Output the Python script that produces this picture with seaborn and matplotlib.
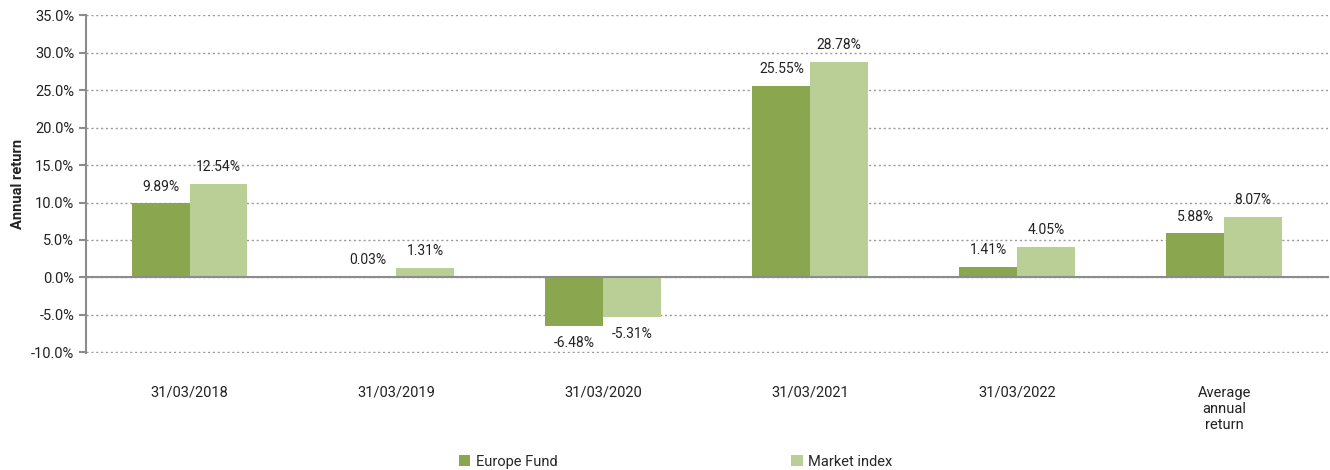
import numpy as np
import matplotlib.pyplot as plt
import seaborn as sns
import pandas as pd
from matplotlib.patches import Patch
from matplotlib.ticker import FixedLocator, PercentFormatter

sns.set_theme(style="white")
plt.rcParams['font.family'] = ['Roboto', 'DejaVu Sans']
plt.rcParams['axes.unicode_minus'] = False

categories = ["31/03/2018", "31/03/2019", "31/03/2020", "31/03/2021",
              "31/03/2022", "Average\nannual\nreturn"]
fund = [9.89, 0.03, -6.48, 25.55, 1.41, 5.88]
market = [12.54, 1.31, -5.31, 28.78, 4.05, 8.07]
series = ["Europe Fund", "Market index"]
colors = ["#8aa64e", "#b9cf95"]

df = pd.DataFrame({
    "date": categories * 2,
    "value": fund + market,
    "series": [series[0]] * len(fund) + [series[1]] * len(market),
})

fig = plt.figure(figsize=(13.3, 4.7), dpi=100)
ax = fig.add_axes([0.0647, 0.249, 0.9335, 0.719])

sns.barplot(data=df, x="date", y="value", hue="series", palette=colors,
            width=0.56, gap=0, saturation=1, ax=ax, legend=False,
            linewidth=0)

for cont in ax.containers:
    ax.bar_label(cont, fmt="%.2f%%", padding=7, fontsize=10, color="#222222")

ax.set_xlim(-0.5, 5.5)
ax.set_ylim(-10.1, 35.05)
ax.yaxis.set_major_locator(FixedLocator(np.arange(-10, 36, 5)))
ax.yaxis.set_major_formatter(PercentFormatter(decimals=1))
ax.grid(axis="y", linestyle=(0, (1.5, 2)), color="#999999", linewidth=1)
ax.set_axisbelow(True)

for s in ["top", "right"]:
    ax.spines[s].set_visible(False)
ax.spines["left"].set_color("#8c8c8c")
ax.spines["left"].set_linewidth(1.5)
ax.spines["bottom"].set_position(("data", 0))
ax.spines["bottom"].set_color("#8c8c8c")
ax.spines["bottom"].set_linewidth(1.5)

ax.set_xticks(np.arange(len(categories)))
ax.set_xticklabels(categories, fontsize=10.5, color="#222222")
ax.set_xticks(np.arange(-0.5, len(categories), 1), minor=True)
ax.tick_params(axis="x", which="major", length=0, pad=78)
ax.tick_params(axis="x", which="minor", direction="out", length=6,
               width=1.5, color="#8c8c8c")
ax.tick_params(axis="y", which="major", direction="out", length=5,
               width=1.5, color="#8c8c8c", labelsize=10.5,
               labelcolor="#222222", left=True)

ax.set_xlabel("")
ax.set_ylabel("Annual return", fontsize=10.5, fontweight="bold",
              color="#222222", labelpad=4)

handles = [Patch(facecolor=c, edgecolor="none") for c in colors]
fig.legend(handles, series, loc="lower center", bbox_to_anchor=(0.508, -0.025),
           ncol=2, frameon=False, fontsize=10.5, columnspacing=16,
           handlelength=0.8, handleheight=0.8, handletextpad=0.4)

fig.savefig("out.png", dpi=100)
